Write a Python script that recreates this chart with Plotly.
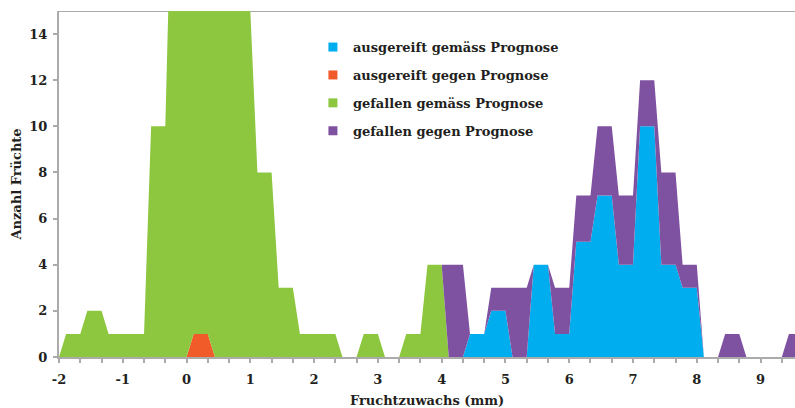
import plotly.graph_objects as go

# Fruit growth classes, 1/3 mm wide, the first one starting at -2 mm
class_start = -2.0
class_width = 1 / 3

# Number of fruits per class (35 classes, -2 mm ... 9.67 mm)
ausgereift_gemaess = [0, 0, 0, 0, 0, 0, 0, 0, 0, 0, 0, 0, 0, 0, 0, 0, 0, 0, 0,
                      1, 2, 0, 4, 1, 5, 7, 4, 10, 4, 3, 0, 0, 0, 0, 0]
ausgereift_gegen = [0, 0, 0, 0, 0, 0, 1, 0, 0, 0, 0, 0, 0, 0, 0, 0, 0, 0, 0,
                    0, 0, 0, 0, 0, 0, 0, 0, 0, 0, 0, 0, 0, 0, 0, 0]
gefallen_gemaess = [1, 2, 1, 1, 10, 22, 26, 19, 15, 8, 3, 1, 1, 0, 1, 0, 1, 4, 0,
                    0, 0, 0, 0, 0, 0, 0, 0, 0, 0, 0, 0, 0, 0, 0, 0]
gefallen_gegen = [0, 0, 0, 0, 0, 0, 0, 0, 0, 0, 0, 0, 0, 0, 0, 0, 0, 0, 4,
                  0, 1, 3, 0, 2, 2, 3, 3, 2, 4, 1, 0, 1, 0, 0, 1]

series_names = ["ausgereift gemäss Prognose", "ausgereift gegen Prognose",
                "gefallen gemäss Prognose", "gefallen gegen Prognose"]
series_values = [ausgereift_gemaess, ausgereift_gegen, gefallen_gemaess, gefallen_gegen]
series_colors = ["#00AEEF", "#F15A29", "#8DC63F", "#7F52A1"]

x_tick_values = [-2, -1, 0, 1, 2, 3, 4, 5, 6, 7, 8, 9]
x_tick_labels = ["-2", "-1", "0", "1", "2", "3", "4", "5", "6", "7", "8", "9"]
y_tick_values = [0, 2, 4, 6, 8, 10, 12, 14]

# Each class is drawn as a plateau: the count is reached a short ramp after
# the class start and held until the class end.
RAMP = class_width / 3


def plateau(counts):
    xs, ys = [class_start], [0]
    for k, c in enumerate(counts):
        lo = class_start + k * class_width
        hi = lo + class_width
        xs += [lo + RAMP, hi]
        ys += [c, c]
    return xs, ys


FONT = "DejaVu Serif"
TXT = "#231f20"
AXIS = "#ABABAB"

fig = go.Figure()
for name, vals, col in zip(series_names, series_values, series_colors):
    xs, ys = plateau(vals)
    fig.add_trace(go.Scatter(
        x=xs, y=ys, name=name, stackgroup="one", mode="lines",
        line=dict(width=0, color=col), fillcolor=col, showlegend=False,
        hoverinfo="skip",
    ))

# legend entries with small square keys
for name, col in zip(series_names, series_colors):
    fig.add_trace(go.Scatter(
        x=[None], y=[None], mode="markers", name=name, legendgroup=name,
        marker=dict(symbol="square", size=9, color=col),
    ))

# top border of the plot area, drawn behind the data
fig.add_shape(type="line", xref="paper", yref="y", x0=0, x1=1, y0=15, y1=15,
              line=dict(color=AXIS, width=2), layer="below")

fig.update_layout(
    width=795, height=408,
    margin=dict(l=59, r=0, t=11, b=51),
    paper_bgcolor="white", plot_bgcolor="white",
    font=dict(family=FONT, size=13, color=TXT, weight="bold"),
    legend=dict(
        x=0.345, y=0.939, xanchor="left", yanchor="top",
        font=dict(family=FONT, size=13, color=TXT, weight="bold"),
        bgcolor="rgba(0,0,0,0)", traceorder="grouped", tracegroupgap=8,
    ),
    xaxis=dict(
        range=[-2, 9.54], tickmode="array", tickvals=x_tick_values,
        ticktext=x_tick_labels, ticks="outside", ticklen=4, tickwidth=1.5,
        tickcolor=AXIS, showline=True, linecolor=AXIS, linewidth=2,
        showgrid=False, zeroline=False, ticklabelstandoff=5,
        minor=dict(tickmode="linear", tick0=-2, dtick=class_width,
                   ticks="outside", ticklen=4, tickwidth=1.5, tickcolor=AXIS),
        tickfont=dict(family=FONT, size=13, color=TXT, weight="bold"),
        title=dict(text="Fruchtzuwachs (mm)", standoff=12,
                   font=dict(family=FONT, size=13, color=TXT, weight="bold")),
    ),
    yaxis=dict(
        range=[0, 15], tickmode="array", tickvals=y_tick_values,
        ticks="outside", ticklen=4, tickwidth=1.5, tickcolor=AXIS,
        showline=True, linecolor=AXIS, linewidth=2,
        showgrid=False, zeroline=False, ticklabelstandoff=3,
        tickfont=dict(family=FONT, size=13, color=TXT, weight="bold"),
        title=dict(text="Anzahl Früchte", standoff=5,
                   font=dict(family=FONT, size=13, color=TXT, weight="bold")),
    ),
)

fig.write_html("out.html")
